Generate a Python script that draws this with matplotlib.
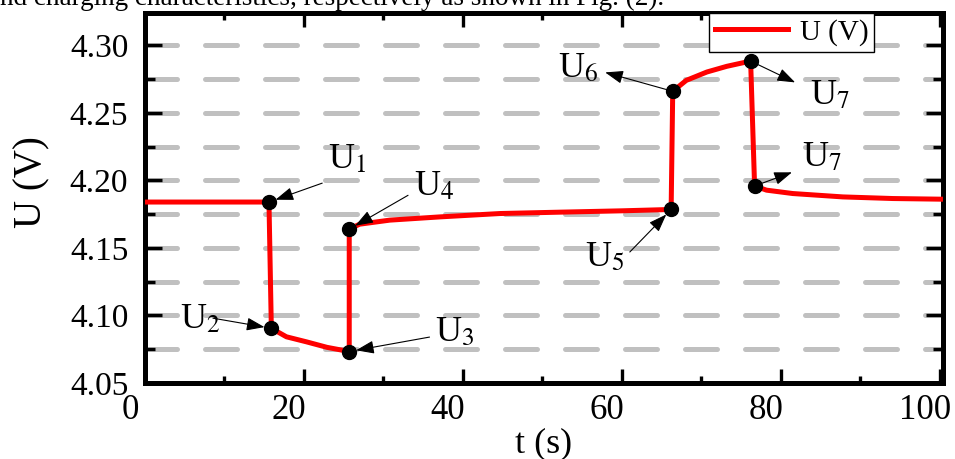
import matplotlib
matplotlib.use('Agg')
import matplotlib.pyplot as plt
from matplotlib.ticker import MultipleLocator, FormatStrFormatter
from matplotlib.transforms import ScaledTranslation

plt.rcParams['font.family'] = ['Liberation Serif', 'DejaVu Serif']
plt.rcParams['mathtext.fontset'] = 'stix'

# voltage trace: rest -> discharge pulse -> rest -> charge pulse -> rest
t_s = [0, 15.6, 15.9, 17.8, 20.3, 22.9, 25.7, 25.7, 27.0, 30.8, 37.1, 44.7,
       52.2, 60.0, 66.2, 66.4, 68.1, 70.7, 73.2, 76.2, 76.7, 78.2, 81.5,
       87.8, 94.1, 100.4]
u_v = [4.184, 4.184, 4.0905, 4.0842, 4.0805, 4.0764, 4.0733, 4.1639, 4.1676,
       4.1706, 4.1730, 4.1755, 4.1765, 4.1775, 4.1785, 4.2660, 4.2741,
       4.2803, 4.2845, 4.2884, 4.1959, 4.1928, 4.1903, 4.1878, 4.1866,
       4.1861]

# marked points U1..U7
pt_t = [15.6, 15.9, 25.7, 25.7, 66.2, 66.4, 76.2, 76.7]
pt_u = [4.184, 4.0905, 4.0733, 4.1639, 4.1785, 4.2660, 4.2884, 4.1959]
pt_lbl = ['U$_1$', 'U$_2$', 'U$_3$', 'U$_4$', 'U$_5$', 'U$_6$', 'U$_7$', 'U$_7$']

fig = plt.figure(figsize=(9.55, 4.59), dpi=100)
ax = fig.add_axes([0.1518, 0.1656, 0.8356, 0.8061])

ax.plot(t_s, u_v, color='#ff0000', lw=3.6, solid_joinstyle='round',
        label='U (V)', zorder=3)
ax.plot(pt_t, pt_u, 'o', color='black', ms=10, zorder=4)

ax.set_xlim(0, 100.4)
ax.set_ylim(4.05, 4.324)
ax.xaxis.set_major_locator(MultipleLocator(20))
ax.xaxis.set_minor_locator(MultipleLocator(10))
ax.yaxis.set_major_locator(MultipleLocator(0.05))
ax.yaxis.set_minor_locator(MultipleLocator(0.025))
ax.yaxis.set_major_formatter(FormatStrFormatter('%.2f'))

# dashed horizontal guides on every y tick
ax.set_axisbelow(True)
ax.yaxis.grid(True, which='both', color='#c0c0c0', lw=3.6,
              linestyle=(0, (6.4, 5.6)), dash_capstyle='round')

for s in ax.spines.values():
    s.set_linewidth(3.6)
ax.tick_params(axis='both', which='both', direction='in', top=True,
               right=True, width=2.4)
ax.tick_params(axis='x', which='major', length=10, pad=8, labelsize=25)
ax.tick_params(axis='x', which='minor', length=5)
ax.tick_params(axis='y', which='major', length=12, pad=12, labelsize=24)
ax.tick_params(axis='y', which='minor', length=7)

shift = ScaledTranslation(-15 / 100, 0, fig.dpi_scale_trans)
for lab in ax.get_xticklabels():
    lab.set_transform(lab.get_transform() + shift)

ax.set_xlabel('t (s)', fontsize=26, labelpad=0)
ax.set_ylabel('U (V)', fontsize=28)
ax.yaxis.set_label_coords(-0.119, 0.543)

# labels: (text position, arrow end away from the point, point index, head on point?)
notes = [
    ((25.4, 4.215), (22.3, 4.198), 0, True),
    ((6.9, 4.0966), (8.55, 4.098), 1, True),
    ((39.0, 4.087), (35.8, 4.084), 2, True),
    ((36.4, 4.195), (33.1, 4.189), 3, True),
    ((57.9, 4.1425), (61.0, 4.147), 4, True),
    ((54.5, 4.283), (57.9, 4.280), 5, False),
    ((86.2, 4.263), (81.8, 4.2726), 6, False),
    ((85.2, 4.217), (81.4, 4.206), 7, False),
]
for (tx, ty), (ex, ey), i, inward in notes:
    ax.text(tx, ty, pt_lbl[i], fontsize=26, ha='center', va='center',
            zorder=5)
    p = (pt_t[i], pt_u[i])
    if inward:
        xy, xytext, sa, sb = p, (ex, ey), 0, 5
    else:
        xy, xytext, sa, sb = (ex, ey), p, 4, 0
    ax.annotate('', xy=xy, xytext=xytext, zorder=5,
                arrowprops=dict(arrowstyle='-|>,head_length=0.55,head_width=0.2',
                                color='black', lw=0.8, mutation_scale=20,
                                shrinkA=sa, shrinkB=sb))

leg = ax.legend(loc='upper left', bbox_to_anchor=(0.707, 1.0), fontsize=21,
                frameon=True, fancybox=False, framealpha=1, edgecolor='black',
                borderaxespad=0, handlelength=2.5, handletextpad=0.4,
                borderpad=0.2)
leg.get_frame().set_linewidth(1.0)

fig.text(0.0, 1 - 5 / 459, 'nd charging characteristics, respectively as shown in Fig. (2).',
         fontsize=19.5, ha='left', va='baseline')

fig.savefig('out.png', dpi=100, facecolor='white')
